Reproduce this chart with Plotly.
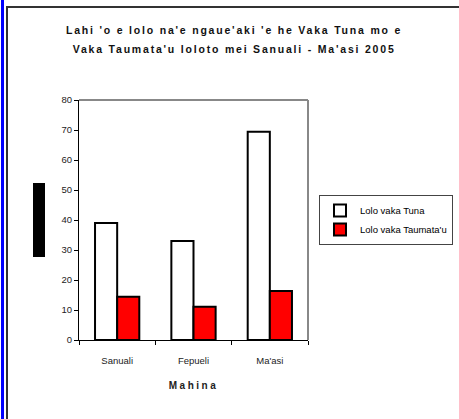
import plotly.graph_objects as go

months = ["Sanuali", "Fepueli", "Ma'asi"]
tuna = [39, 33, 69.4]
taumatau = [14.4, 11.1, 16.3]
series_names = ["Lolo vaka Tuna", "Lolo vaka Taumata'u"]
title_lines = ["Lahi 'o e lolo na'e ngaue'aki 'e he Vaka Tuna mo e",
               "Vaka Taumata'u loloto mei Sanuali - Ma'asi 2005"]
x_title = "Mahina"

W, H = 459, 419
L, R, T, B = 79, 308, 100, 340

def px(x):
    return (x - L) / (R - L)

def py(y):
    return (B - y) / (B - T)

fig = go.Figure()
fig.add_trace(go.Bar(x=months, y=tuna, name=series_names[0],
                     marker=dict(color="white", line=dict(color="black", width=2))))
fig.add_trace(go.Bar(x=months, y=taumatau, name=series_names[1],
                     marker=dict(color="#ff0000", line=dict(color="black", width=2))))

font = "Liberation Sans, Arial, sans-serif"
fig.update_layout(
    width=W, height=H,
    margin=dict(l=L, r=W - R, t=T, b=H - B, autoexpand=False),
    paper_bgcolor="white", plot_bgcolor="white",
    barmode="group", bargap=0.42, bargroupgap=0,
    showlegend=True,
    legend=dict(x=px(319), y=py(195), xanchor="left", yanchor="top",
                bordercolor="#444", borderwidth=1, bgcolor="white",
                font=dict(family=font, size=9.5, color="black"),
                itemwidth=30),
    font=dict(family=font, size=9, color="#222"),
)
fig.update_xaxes(showline=True, linecolor="black", linewidth=1,
                 ticks="outside", tickson="boundaries", ticklen=4, tickcolor="black",
                 ticklabelstandoff=12,
                 tickfont=dict(size=9.5, color="#222"),
                 title=dict(text="<b>" + x_title + "</b>", font=dict(size=10, color="#222"), standoff=16),
                 showgrid=False)
fig.update_yaxes(range=[0, 80], dtick=10, showline=True, linecolor="black", linewidth=1,
                 ticks="outside", ticklen=4, tickcolor="black",
                 tickfont=dict(size=9.5, color="#222"), showgrid=False, zeroline=False)

# plot area gray border top/right
fig.add_shape(type="line", xref="paper", yref="paper", x0=0, x1=1, y0=1, y1=1,
              line=dict(color="#888", width=2))
fig.add_shape(type="line", xref="paper", yref="paper", x0=1, x1=1, y0=0, y1=1,
              line=dict(color="#888", width=2))
# outer frame
fig.add_shape(type="line", xref="paper", yref="paper", x0=px(2.5), x1=px(2.5), y0=py(420), y1=py(-1),
              line=dict(color="#0000ff", width=3))
fig.add_shape(type="path", xref="paper", yref="paper",
              path=f"M {px(7)} {py(421)} L {px(7)} {py(7)} L {px(461)} {py(7)}",
              line=dict(color="#333", width=2))
# black block (y-axis title area)
fig.add_shape(type="rect", xref="paper", yref="paper", x0=px(33), x1=px(45), y0=py(257), y1=py(183),
              fillcolor="black", line=dict(width=0))

for i, t in enumerate(title_lines):
    fig.add_annotation(text="<b>" + t + "</b>", xref="paper", yref="paper",
                       x=px(234), y=py(30 + 19 * i), xanchor="center", yanchor="middle",
                       showarrow=False,
                       font=dict(family=font, size=10.5, color="#111"))

post = """
document.body.style.margin='0';
var gd=document.getElementById('{plot_id}');
gd.querySelectorAll('.annotation-text').forEach(function(e){e.style.letterSpacing='1.8px';});
gd.querySelectorAll('.xtitle').forEach(function(e){e.style.letterSpacing='2.5px';});
"""
fig.write_html("out.html", post_script=post, config={"displayModeBar": False})
